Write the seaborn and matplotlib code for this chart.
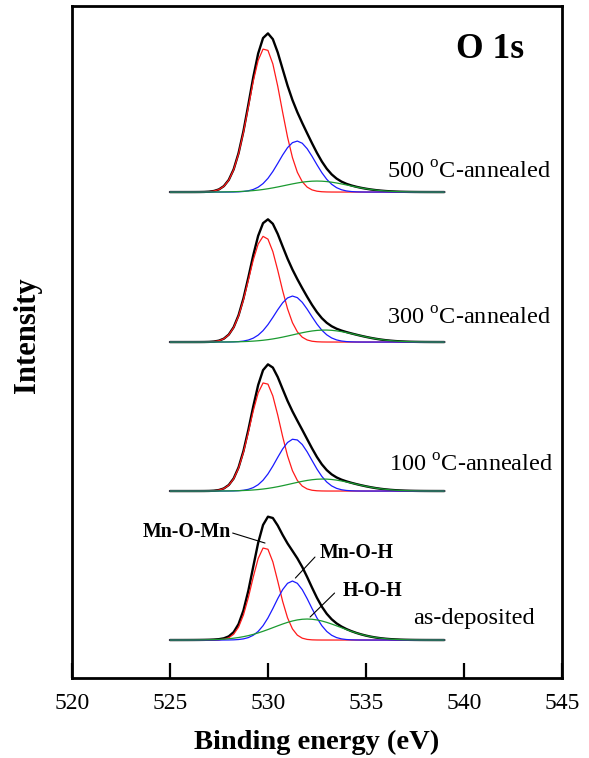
import numpy as np
import pandas as pd
import matplotlib
matplotlib.use("Agg")
import matplotlib.pyplot as plt
import seaborn as sns

# O 1s fitted components for each sample (center eV, height a.u., FWHM eV)
samples = ["as-deposited", "100 $^{\\rm o}$C-annealed", "300 $^{\\rm o}$C-annealed", "500 $^{\\rm o}$C-annealed"]
offsets = [38, 187, 336, 486]

mnomn_center = [529.85, 529.85, 529.81, 529.85]
mnomn_height = [93, 109, 106, 144]
mnomn_fwhm = [1.6, 1.80, 1.84, 1.95]

mnoh_center = [531.25, 531.33, 531.26, 531.48]
mnoh_height = [59, 52, 46, 51]
mnoh_fwhm = [2.1, 2.10, 2.13, 2.15]

hoh_center = [532.0, 532.8, 532.9, 532.5]
hoh_height = [21, 12, 12, 11]
hoh_fwhm = [4.0, 3.8, 3.8, 3.8]

energy = np.arange(525.0, 539.01, 0.25)

sns.set_theme(style="white")
plt.rcParams["font.family"] = ["Liberation Serif", "DejaVu Serif"]
plt.rcParams["mathtext.fontset"] = "custom"
plt.rcParams["mathtext.rm"] = "Liberation Serif"
plt.rcParams["text.color"] = "black"
plt.rcParams["axes.labelcolor"] = "black"
plt.rcParams["xtick.color"] = "black"


def component(c, h, w):
    s = w / (2 * np.sqrt(2 * np.log(2)))
    return h * np.exp(-0.5 * ((energy - c) / s) ** 2)


fig = plt.figure(figsize=(5.89, 7.58), dpi=100)
ax = fig.add_axes([0.1222, 0.1055, 0.8318, 0.8865])

for i in range(len(samples)):
    base = offsets[i]
    r = component(mnomn_center[i], mnomn_height[i], mnomn_fwhm[i])
    b = component(mnoh_center[i], mnoh_height[i], mnoh_fwhm[i])
    g = component(hoh_center[i], hoh_height[i], hoh_fwhm[i])
    total = r + b + g
    df = pd.DataFrame({"E": energy, "total": total + base, "r": r + base,
                       "b": b + base, "g": g + base})
    sns.lineplot(data=df, x="E", y="total", color="black", lw=1.7, ax=ax)
    sns.lineplot(data=df, x="E", y="r", color="#ff1a1a", lw=0.9, ax=ax)
    sns.lineplot(data=df, x="E", y="b", color="#1a1aff", lw=0.9, ax=ax)
    sns.lineplot(data=df, x="E", y="g", color="#1a9a30", lw=0.9, ax=ax)

label_pos = [(537.4, 54), (536.2, 206), (536.1, 353), (536.1, 499)]
for name, (lx, ly) in zip(samples, label_pos):
    ax.text(lx, ly, name, fontsize=17.5, ha="left", va="baseline")

ax.text(539.6, 620, "O 1s", fontsize=25.5, fontweight="bold", ha="left", va="baseline")

# component labels with leader lines
ax.text(523.6, 141, "Mn-O-Mn", fontsize=14.3, fontweight="bold", ha="left", va="baseline")
ax.plot([528.2, 529.85], [145, 135], color="black", lw=0.8)
ax.text(532.65, 120, "Mn-O-H", fontsize=14.3, fontweight="bold", ha="left", va="baseline")
ax.plot([532.4, 531.4], [121, 100], color="black", lw=0.8)
ax.text(533.8, 82, "H-O-H", fontsize=14.3, fontweight="bold", ha="left", va="baseline")
ax.plot([533.4, 532.15], [85, 61], color="black", lw=0.8)

ax.set_xlim(520, 545)
ax.set_ylim(0, 672)
ax.set_xticks([520, 525, 530, 535, 540, 545])
ax.set_yticks([])
ax.tick_params(axis="x", direction="in", length=11, width=1.6, labelsize=17, pad=11,
               bottom=True, top=False, colors="black")
for sp in ax.spines.values():
    sp.set_linewidth(2.0)
    sp.set_color("black")

ax.set_xlabel("Binding energy (eV)", fontsize=20.5, fontweight="bold", labelpad=11)
ax.set_ylabel("Intensity", fontsize=22, fontweight="bold")
ax.yaxis.set_label_coords(-0.061, 0.51)

fig.savefig("out.png", dpi=100)
